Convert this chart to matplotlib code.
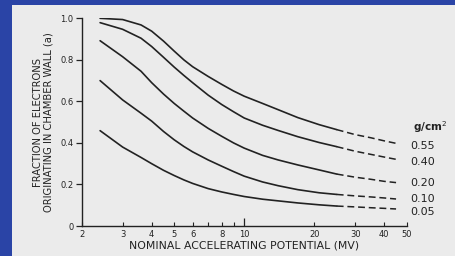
import matplotlib
matplotlib.use("Agg")
import matplotlib.pyplot as plt
from matplotlib.patches import Rectangle
from matplotlib.ticker import FixedLocator, FixedFormatter

# ---- data ----
x_solid = [2.4, 3, 3.6, 4, 4.5, 5, 5.5, 6, 7, 8, 9, 10, 12, 14, 17, 21, 25]
x_dash = [25, 30, 35, 40, 45]

thickness_labels = ["0.55", "0.40", "0.20", "0.10", "0.05"]
y_solid = {
    "0.55": [1.0, 0.994, 0.968, 0.938, 0.89, 0.842, 0.80, 0.767, 0.72, 0.682, 0.65, 0.625, 0.59, 0.56, 0.522, 0.488, 0.464],
    "0.40": [0.979, 0.947, 0.904, 0.864, 0.812, 0.765, 0.725, 0.69, 0.63, 0.585, 0.55, 0.52, 0.485, 0.46, 0.43, 0.402, 0.382],
    "0.20": [0.892, 0.815, 0.745, 0.69, 0.635, 0.59, 0.553, 0.52, 0.47, 0.432, 0.40, 0.375, 0.34, 0.318, 0.294, 0.27, 0.25],
    "0.10": [0.70, 0.607, 0.543, 0.505, 0.455, 0.415, 0.383, 0.357, 0.318, 0.288, 0.262, 0.24, 0.212, 0.194, 0.175, 0.16, 0.152],
    "0.05": [0.459, 0.38, 0.33, 0.30, 0.268, 0.243, 0.222, 0.205, 0.18, 0.164, 0.152, 0.142, 0.129, 0.121, 0.111, 0.102, 0.096],
}
y_dash = {
    "0.55": [0.464, 0.44, 0.425, 0.41, 0.398],
    "0.40": [0.382, 0.36, 0.345, 0.332, 0.321],
    "0.20": [0.25, 0.235, 0.225, 0.215, 0.209],
    "0.10": [0.152, 0.145, 0.14, 0.135, 0.13],
    "0.05": [0.096, 0.092, 0.088, 0.085, 0.082],
}
label_y = [0.385, 0.308, 0.207, 0.13, 0.067]
unit_label = "g/cm$^2$"

x_major = [10]
x_minor = [2, 3, 4, 5, 6, 7, 8, 9, 20, 30, 40, 50]
x_minor_labels = ["2", "3", "4", "5", "6", "", "8", "", "20", "30", "40", "50"]
y_ticks = [0, 0.2, 0.4, 0.6, 0.8, 1.0]
y_tick_labels = ["0", "0.2", "0.4", "0.6", "0.8", "1.0"]

# ---- figure ----
W, H = 456, 256
fig = plt.figure(figsize=(W / 100, H / 100), dpi=100)
fig.patch.set_facecolor("#2a44a6")
page = Rectangle((12 / W, 0), 1 - 12 / W, (H - 5) / H,
                 transform=fig.transFigure, facecolor="#ebebeb",
                 edgecolor="none", zorder=-10)
fig.add_artist(page)

ink = "#222222"
ax = fig.add_axes([81.7 / W, (H - 226) / H, 325 / W, 207.7 / H])
ax.set_zorder(5)
ax.set_facecolor("none")
ax.set_xscale("log")
ax.set_xlim(2, 50)
ax.set_ylim(0, 1.0)

for k in thickness_labels:
    ax.plot(x_solid, y_solid[k], color=ink, lw=1.2, solid_capstyle="round",
            solid_joinstyle="round")
    ax.plot(x_dash, y_dash[k], color=ink, lw=1.1, linestyle=(0, (4.5, 2.5)))

for s in ["top", "right"]:
    ax.spines[s].set_visible(False)
for s in ["left", "bottom"]:
    ax.spines[s].set_color(ink)
    ax.spines[s].set_linewidth(1.0)

ax.xaxis.set_major_locator(FixedLocator(x_major))
ax.xaxis.set_major_formatter(FixedFormatter(["10"]))
ax.xaxis.set_minor_locator(FixedLocator(x_minor))
ax.xaxis.set_minor_formatter(FixedFormatter(x_minor_labels))
ax.tick_params(axis="x", which="major", direction="in", length=6, width=0.9,
               color=ink, labelsize=6, labelcolor=ink, pad=3)
ax.tick_params(axis="x", which="minor", direction="in", length=3, width=0.8,
               color=ink, labelsize=6, labelcolor=ink, pad=3)
ax.set_yticks(y_ticks)
ax.set_yticklabels(y_tick_labels)
ax.tick_params(axis="y", direction="out", length=4, width=0.9, color=ink,
               labelsize=6, labelcolor=ink, pad=2)

ax.set_xlabel("NOMINAL ACCELERATING POTENTIAL (MV)", fontsize=7.8, color=ink,
              labelpad=1)
ax.set_ylabel("FRACTION OF ELECTRONS\nORIGINATING IN CHAMBER WALL (a)",
              fontsize=7.2, color=ink, labelpad=5, linespacing=1.05)

for lab, yy in zip(thickness_labels, label_y):
    ax.text(52, yy, lab, fontsize=8, color=ink, ha="left", va="center",
            clip_on=False)
ax.text(53, 0.477, unit_label, fontsize=7.5, color=ink, ha="left", va="center",
        fontweight="bold", clip_on=False)

fig.savefig("out.png", dpi=100, facecolor=fig.get_facecolor())
